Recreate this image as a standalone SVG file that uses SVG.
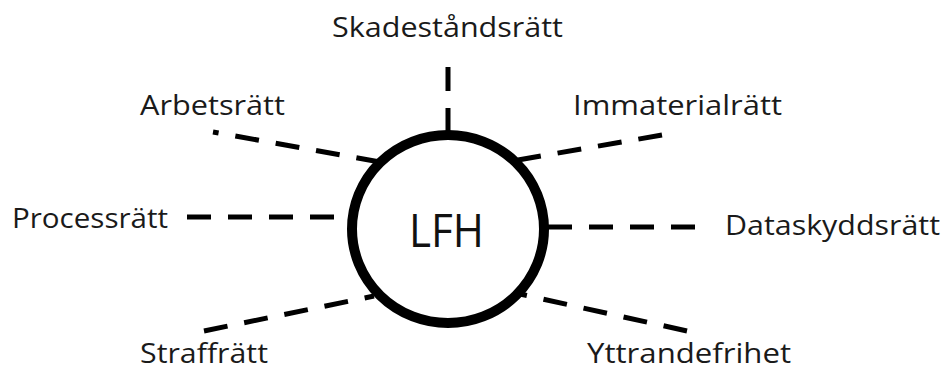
<svg xmlns="http://www.w3.org/2000/svg" width="944" height="371" viewBox="0 0 944 371">
<style>
.lbl{font-family:"Open Sans","Liberation Sans",sans-serif;font-size:28px;fill:#1a1a1a}
.dash{stroke:#000;stroke-width:5;stroke-dasharray:24 17;fill:none}
</style>
<rect width="944" height="371" fill="#fff"/>
<g id="connectors">
<line class="dash" x1="448" y1="67" x2="448" y2="134"/>
<line class="dash" x1="380" y1="162" x2="213" y2="132"/>
<line class="dash" x1="187" y1="217" x2="350" y2="217"/>
<line class="dash" x1="662" y1="135" x2="518" y2="160"/>
<line class="dash" x1="695" y1="227" x2="545" y2="227"/>
<line class="dash" x1="204" y1="331" x2="374" y2="296"/>
<line class="dash" x1="687" y1="331" x2="520" y2="294"/>
</g>
<g id="lfh">
<ellipse cx="448" cy="229" rx="96" ry="94" fill="#fff" stroke="#000" stroke-width="10"/>
<text x="446.5" y="247" text-anchor="middle" font-family="Open Sans, Liberation Sans, sans-serif" font-size="46" fill="#111" textLength="75" lengthAdjust="spacingAndGlyphs">LFH</text>
</g>
<g id="skadestandsratt"><text class="lbl" x="332" y="37" textLength="231" lengthAdjust="spacingAndGlyphs">Skadeståndsrätt</text></g>
<g id="arbetsratt"><text class="lbl" x="140" y="115" textLength="145" lengthAdjust="spacingAndGlyphs">Arbetsrätt</text></g>
<g id="immaterialratt"><text class="lbl" x="573" y="115" textLength="209" lengthAdjust="spacingAndGlyphs">Immaterialrätt</text></g>
<g id="processratt"><text class="lbl" x="12" y="228" textLength="156" lengthAdjust="spacingAndGlyphs">Processrätt</text></g>
<g id="dataskyddsratt"><text class="lbl" x="725" y="235" textLength="215" lengthAdjust="spacingAndGlyphs">Dataskyddsrätt</text></g>
<g id="straffratt"><text class="lbl" x="140" y="363" textLength="128" lengthAdjust="spacingAndGlyphs">Straffrätt</text></g>
<g id="yttrandefrihet"><text class="lbl" x="587" y="363" textLength="204" lengthAdjust="spacingAndGlyphs">Yttrandefrihet</text></g>
</svg>
